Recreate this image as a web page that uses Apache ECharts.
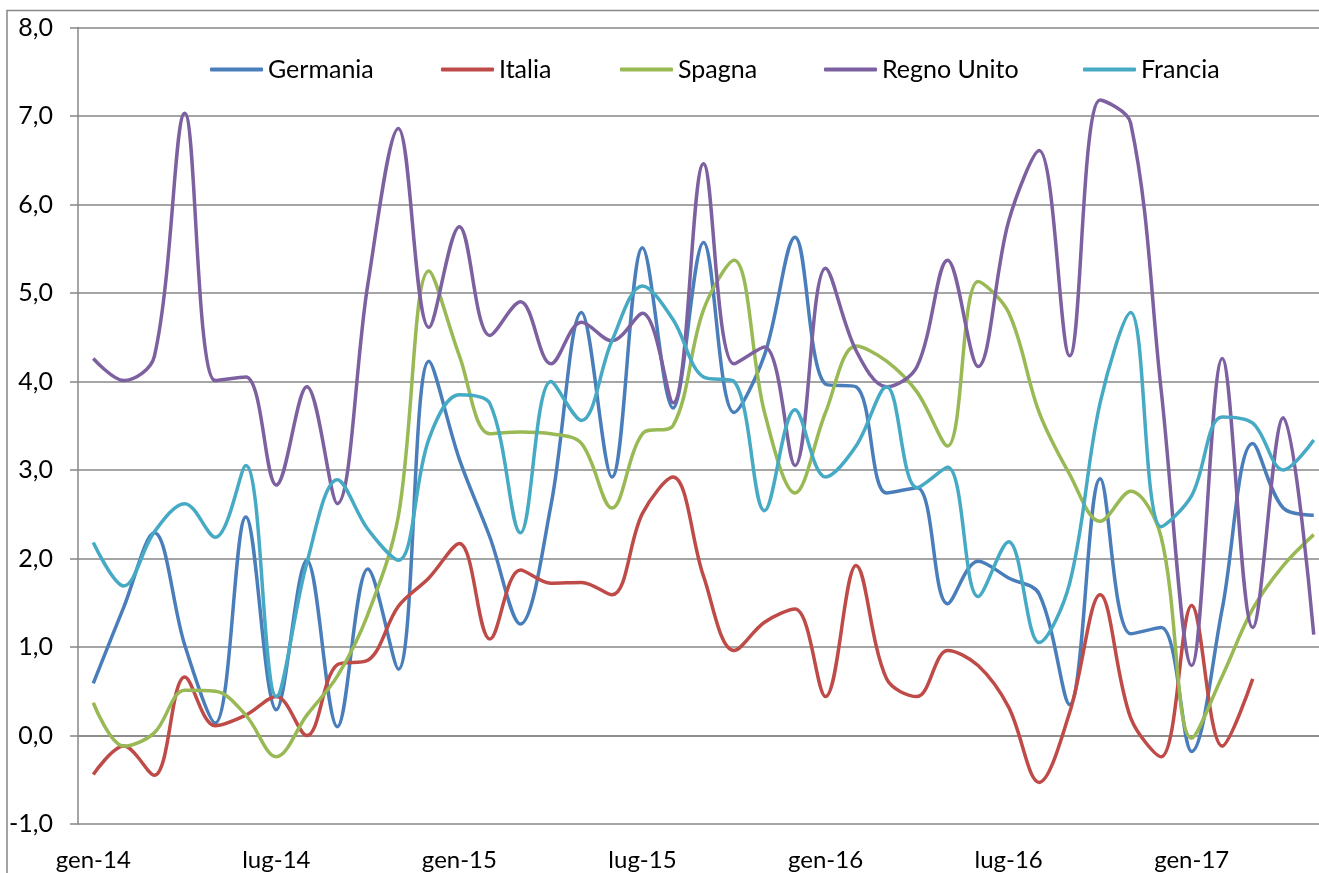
<!DOCTYPE html>
<html>
<head>
<meta charset="utf-8">
<script src="https://cdn.jsdelivr.net/npm/echarts@6/dist/echarts.min.js"></script>
<style>
  html, body { margin: 0; padding: 0; background: #fff; }
  #chart { width: 1319px; height: 873px; }
</style>
</head>
<body>
<div id="chart"></div>
<script>
const mesi = ['gen', 'feb', 'mar', 'apr', 'mag', 'giu', 'lug', 'ago', 'set', 'ott', 'nov', 'dic']
const categories = []
for (let i = 0; i < 41; i++) {
  categories.push(mesi[i % 12] + '-' + (14 + Math.floor(i / 12)))
}

const germania = [0.59, 1.45, 2.29, 1.02, 0.14, 2.47, 0.29, 1.98, 0.10, 1.88, 0.75, 4.23, 3.12, 2.24, 1.26, 2.6, 4.78, 2.92, 5.51, 3.7, 5.57, 3.65, 4.3, 5.63, 3.97, 3.94, 2.74, 2.8, 1.49, 1.97, 1.78, 1.6, 0.35, 2.9, 1.15, 1.22, -0.18, 1.43, 3.3, 2.57, 2.49]
const italia = [-0.44, -0.12, -0.45, 0.66, 0.11, 0.23, 0.44, 0.0, 0.8, 0.85, 1.46, 1.78, 2.17, 1.09, 1.87, 1.72, 1.73, 1.59, 2.51, 2.92, 1.8, 0.96, 1.28, 1.43, 0.44, 1.92, 0.64, 0.44, 0.96, 0.79, 0.32, -0.53, 0.26, 1.59, 0.2, -0.24, 1.47, -0.12, 0.64]
const spagna = [0.37, -0.12, 0.03, 0.51, 0.5, 0.23, -0.24, 0.23, 0.67, 1.37, 2.48, 5.25, 4.29, 3.41, 3.43, 3.41, 3.3, 2.57, 3.41, 3.5, 4.81, 5.37, 3.65, 2.74, 3.65, 4.4, 4.23, 3.88, 3.27, 5.13, 4.78, 3.65, 2.95, 2.42, 2.76, 2.24, -0.03, 0.67, 1.43, 1.92, 2.27]
const regnoUnito = [4.26, 4.01, 4.28, 7.03, 4.01, 4.05, 2.83, 3.94, 2.62, 5.1, 6.86, 4.61, 5.75, 4.52, 4.9, 4.2, 4.67, 4.46, 4.77, 3.76, 6.46, 4.2, 4.39, 3.05, 5.28, 4.35, 3.94, 4.17, 5.37, 4.17, 5.81, 6.61, 4.29, 7.18, 6.92, 3.9, 0.79, 4.26, 1.22, 3.59, 1.14]
const francia = [2.18, 1.69, 2.3, 2.62, 2.24, 3.05, 0.44, 1.95, 2.89, 2.33, 1.98, 3.35, 3.85, 3.75, 2.29, 4.0, 3.56, 4.46, 5.08, 4.7, 4.05, 4.0, 2.54, 3.68, 2.92, 3.27, 3.94, 2.8, 3.03, 1.57, 2.19, 1.05, 1.72, 3.76, 4.78, 2.36, 2.71, 3.6, 3.53, 3.0, 3.34]

const seriesNames = ['Germania', 'Italia', 'Spagna', 'Regno Unito', 'Francia']
const seriesData = [germania, italia, spagna, regnoUnito, francia]
const colors = ['#4A7EBB', '#BE4B48', '#98B954', '#7D60A0', '#46AAC5']
const legendLeft = [210, 441, 620, 824, 1083]

const font = 'Lato, "Open Sans", sans-serif'
const gray = '#878787'

const chart = echarts.init(document.getElementById('chart'))

chart.setOption({
  animation: false,
  textStyle: { fontFamily: font },
  graphic: [{
    type: 'rect',
    shape: { x: 7, y: 10.5, width: 1400, height: 1000 },
    style: { fill: 'none', stroke: gray, lineWidth: 1.5 },
    silent: true
  }],
  legend: seriesNames.map((name, i) => ({
    data: [name],
    left: legendLeft[i],
    top: 57,
    padding: 0,
    icon: 'roundRect',
    itemWidth: 53,
    itemHeight: 4,
    itemGap: 0,
    textStyle: { fontFamily: font, fontSize: 25, color: '#000' }
  })),
  grid: {
    left: 78,
    top: 27.5,
    width: 1251,
    height: 796.5,
    containLabel: false,
    outerBoundsMode: 'none'
  },
  xAxis: {
    type: 'category',
    data: categories,
    boundaryGap: true,
    position: 'bottom',
    // axis drawn on the zero line, labels kept at the bottom
    offset: -88.5,
    axisLine: { onZero: false, lineStyle: { color: gray, width: 1.5 } },
    axisTick: { interval: 5, length: 7, lineStyle: { color: gray, width: 1.5 } },
    axisLabel: {
      interval: 5,
      margin: 113,
      fontFamily: font,
      fontSize: 24,
      color: '#000'
    },
    splitLine: { show: false }
  },
  yAxis: {
    type: 'value',
    min: -1,
    max: 8,
    interval: 1,
    axisLine: { show: true, lineStyle: { color: gray, width: 1.5 } },
    axisTick: { show: true, length: 8, lineStyle: { color: gray, width: 1.5 } },
    axisLabel: {
      margin: 25,
      fontFamily: font,
      fontSize: 25,
      color: '#000',
      formatter: v => v.toFixed(1).replace('.', ',')
    },
    splitLine: { lineStyle: { color: gray, width: 1.5 } }
  },
  series: seriesNames.map((name, i) => ({
    name: name,
    type: 'line',
    data: seriesData[i],
    smooth: 0.35,
    symbol: 'none',
    color: colors[i],
    lineStyle: { width: 3.5, color: colors[i] }
  }))
})
</script>
</body>
</html>
